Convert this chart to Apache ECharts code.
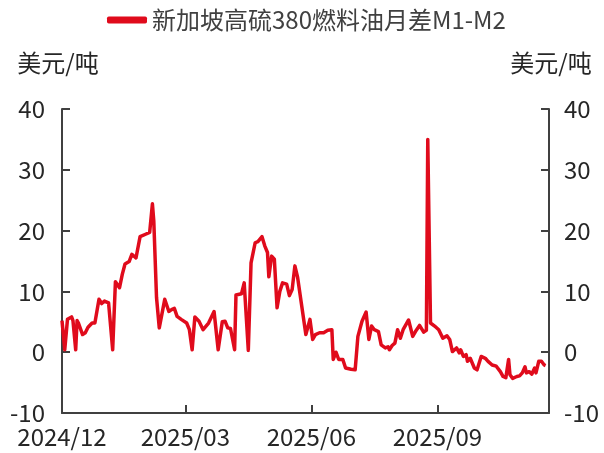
<!DOCTYPE html>
<html>
<head>
<meta charset="utf-8">
<script src="https://cdn.jsdelivr.net/npm/echarts@6/dist/echarts.min.js"></script>
<style>
  html, body { margin: 0; padding: 0; background: #fff; }
  #chart { width: 604px; height: 453px; }
</style>
</head>
<body>
<div id="chart"></div>
<script>
// 新加坡高硫380燃料油月差 M1-M2, 美元/吨
const seriesName = '新加坡高硫380燃料油月差M1-M2';
const dates = [
  '2024-12-01', '2024-12-03', '2024-12-05', '2024-12-08', '2024-12-09', '2024-12-11', '2024-12-12', '2024-12-13',
  '2024-12-16', '2024-12-18', '2024-12-20', '2024-12-23', '2024-12-25', '2024-12-28', '2024-12-30', '2025-01-01',
  '2025-01-04', '2025-01-07', '2025-01-09', '2025-01-12', '2025-01-14', '2025-01-16', '2025-01-19', '2025-01-21',
  '2025-01-24', '2025-01-27', '2025-01-31', '2025-02-03', '2025-02-05', '2025-02-06', '2025-02-08', '2025-02-10',
  '2025-02-14', '2025-02-17', '2025-02-19', '2025-02-21', '2025-02-23', '2025-02-26', '2025-03-02', '2025-03-04',
  '2025-03-06', '2025-03-08', '2025-03-11', '2025-03-14', '2025-03-18', '2025-03-22', '2025-03-25', '2025-03-28',
  '2025-03-30', '2025-04-01', '2025-04-03', '2025-04-06', '2025-04-07', '2025-04-11', '2025-04-13', '2025-04-16',
  '2025-04-18', '2025-04-21', '2025-04-23', '2025-04-26', '2025-04-28', '2025-04-30', '2025-05-01', '2025-05-03',
  '2025-05-05', '2025-05-07', '2025-05-09', '2025-05-11', '2025-05-14', '2025-05-16', '2025-05-18', '2025-05-20',
  '2025-05-22', '2025-05-25', '2025-05-28', '2025-05-31', '2025-06-02', '2025-06-04', '2025-06-07', '2025-06-10',
  '2025-06-13', '2025-06-16', '2025-06-17', '2025-06-19', '2025-06-21', '2025-06-22', '2025-06-24', '2025-06-26',
  '2025-06-30', '2025-07-03', '2025-07-05', '2025-07-08', '2025-07-11', '2025-07-13', '2025-07-15', '2025-07-17',
  '2025-07-20', '2025-07-22', '2025-07-25', '2025-07-27', '2025-07-28', '2025-07-30', '2025-08-01', '2025-08-03',
  '2025-08-05', '2025-08-07', '2025-08-11', '2025-08-14', '2025-08-16', '2025-08-19', '2025-08-22', '2025-08-24',
  '2025-08-25', '2025-08-27', '2025-08-30', '2025-09-02', '2025-09-05', '2025-09-08', '2025-09-10', '2025-09-12',
  '2025-09-15', '2025-09-17', '2025-09-18', '2025-09-20', '2025-09-22', '2025-09-23', '2025-09-25', '2025-09-28',
  '2025-09-30', '2025-10-01', '2025-10-03', '2025-10-06', '2025-10-08', '2025-10-11', '2025-10-14', '2025-10-17',
  '2025-10-19', '2025-10-21', '2025-10-23', '2025-10-24', '2025-10-26', '2025-10-29', '2025-10-31', '2025-11-02',
  '2025-11-04', '2025-11-05', '2025-11-07', '2025-11-09', '2025-11-11', '2025-11-12', '2025-11-14', '2025-11-16',
  '2025-11-18', '2025-11-19'
];
const values = [
  5.2, 0.4, 5.4, 5.8, 5.2, 0.4, 5.2, 4.8,
  2.9, 3.2, 4.1, 4.8, 4.8, 8.7, 8.0, 8.4,
  8.1, 0.4, 11.6, 10.6, 12.8, 14.5, 14.9, 16.1,
  15.5, 19.0, 19.4, 19.7, 24.4, 21.6, 9.0, 4.0,
  8.7, 6.7, 7.0, 7.2, 5.9, 5.4, 4.8, 3.7,
  0.4, 5.8, 5.1, 3.7, 4.8, 6.7, 0.4, 5.0,
  5.1, 4.0, 3.9, 0.4, 9.4, 9.6, 11.4, 0.3,
  14.7, 18.0, 18.2, 19.0, 17.5, 16.4, 12.4, 15.8,
  15.3, 7.3, 10.0, 11.4, 11.2, 9.3, 10.3, 14.2,
  12.3, 7.6, 2.9, 5.4, 2.1, 2.9, 3.2, 3.2,
  3.6, 3.7, -1.2, 0.0, -1.2, -1.0, -1.2, -2.6,
  -2.8, -2.9, 2.6, 5.1, 6.6, 2.1, 4.3, 3.7,
  3.4, 1.2, 0.7, 0.9, 0.4, 1.1, 1.5, 3.7,
  2.3, 3.7, 5.3, 2.6, 3.4, 4.4, 3.3, 3.6,
  35.0, 4.8, 4.3, 3.7, 2.3, 2.7, 2.1, 0.1,
  0.7, -0.1, 0.4, -0.7, -0.4, -1.5, -1.0, -2.6,
  -2.9, -2.6, -0.7, -1.0, -1.5, -2.1, -2.3, -3.2,
  -4.0, -4.2, -1.2, -3.7, -4.3, -4.0, -3.9, -3.4,
  -2.4, -3.4, -3.2, -3.6, -2.6, -3.4, -1.5, -1.5,
  -2.1, -2.2
];
const tickDates = ['2024-12-01', '2025-03-01', '2025-06-01', '2025-09-01'];
const axisMin = '2024-12-01';
const axisMax = '2025-11-21 12:00';
const yName = '美元/吨';

const font = '"Noto Sans CJK SC", "Noto Sans", sans-serif';
const textColor = '#262626';
const lineColor = '#404040';
const red = '#e00b1c';

const toMs = d => +echarts.number.parseDate(d);
const tickValues = tickDates.map(toMs);

function yAxisFor(position) {
  return {
    type: 'value',
    position: position,
    min: -10,
    max: 40,
    interval: 10,
    name: yName,
    nameLocation: 'end',
    nameGap: 34,
    nameTextStyle: {
      fontFamily: font,
      fontSize: 24,
      color: textColor,
      align: 'center',
      padding: position === 'left' ? [0, 8, 0, 0] : [0, 0, 0, 4],
    },
    axisLine: { show: true, lineStyle: { color: lineColor, width: 2 } },
    axisTick: { show: true, inside: true, length: 8, lineStyle: { color: lineColor, width: 2 } },
    axisLabel: {
      fontFamily: font,
      fontSize: 24,
      color: textColor,
      margin: position === 'left' ? 17 : 15,
    },
    splitLine: { show: false },
  };
}

const chart = echarts.init(document.getElementById('chart'), null, { renderer: 'canvas' });

const option = {
  animation: false,
  backgroundColor: '#fff',
  legend: {
    top: 3,
    left: 102,
    itemWidth: 40,
    itemHeight: 7,
    itemGap: 10,
    icon: 'roundRect',
    textStyle: { fontFamily: font, fontSize: 24, color: '#404040' },
    data: [seriesName],
  },
  grid: {
    left: 62,
    right: 55,
    top: 109,
    bottom: 40,
    containLabel: false,
    outerBoundsMode: 'none',
  },
  xAxis: {
    type: 'value',
    min: toMs(axisMin),
    max: toMs(axisMax),
    axisLine: { show: true, onZero: false, lineStyle: { color: lineColor, width: 2 } },
    axisTick: { show: true, inside: true, length: 8, customValues: tickValues, lineStyle: { color: lineColor, width: 2 } },
    axisLabel: {
      customValues: tickValues,
      fontFamily: font,
      fontSize: 24,
      color: textColor,
      margin: 12,
      formatter: v => echarts.time.format(v, '{yyyy}/{MM}', false),
    },
    splitLine: { show: false },
  },
  yAxis: [yAxisFor('left'), yAxisFor('right')],
  series: [
    {
      name: seriesName,
      type: 'line',
      yAxisIndex: 0,
      showSymbol: false,
      symbol: 'none',
      color: red,
      lineStyle: { color: red, width: 3.5, join: 'round' },
      data: dates.map((d, i) => [toMs(d), values[i]]),
    },
  ],
};

chart.setOption(option);
</script>
</body>
</html>
